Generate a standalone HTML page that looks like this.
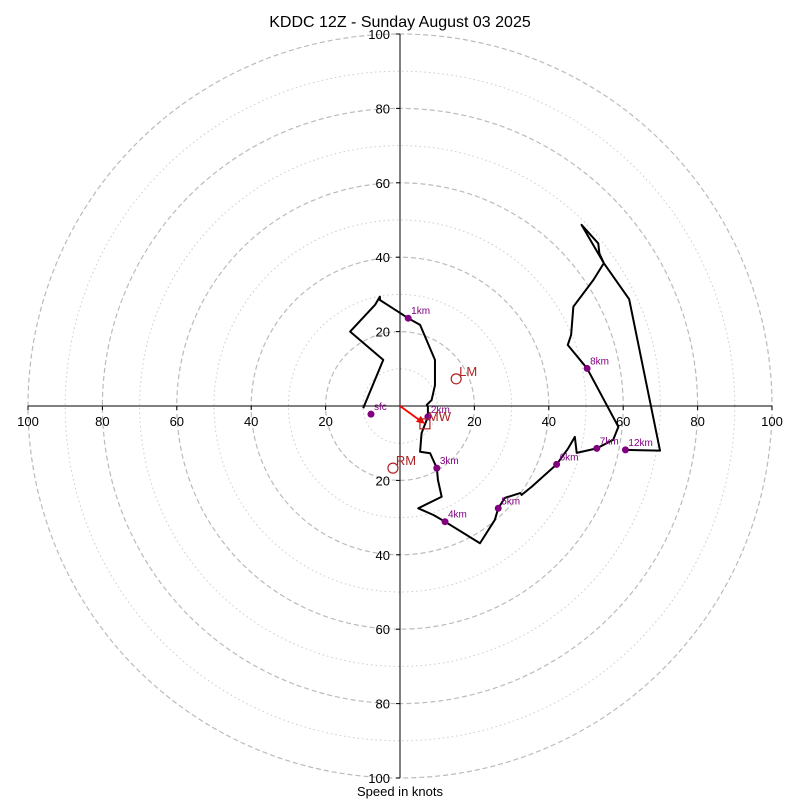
<!DOCTYPE html>
<html><head><meta charset="utf-8"><style>
body{margin:0;background:#fff}
svg{display:block;font-family:"Liberation Sans","DejaVu Sans",sans-serif}
</style></head><body>
<svg id="chart" width="800" height="800" viewBox="0 0 800 800">
<text x="400" y="27" text-anchor="middle" font-size="16">KDDC 12Z - Sunday August 03 2025</text>
<text x="400" y="796" text-anchor="middle" font-size="13">Speed in knots</text>
<g id="rings"></g><g id="axes"></g><g id="trace"></g><g id="marks"></g>
</svg>
<script>
const traceU=[-9.9,-4.5,-13.4,-6.7,-5.4,-5.4,2.2,5.4,9.4,9.4,8.5,7.2,7.5,7.5,5.8,5.4,8.1,9.9,10.2,11.2,4.9,9.0,12.1,21.5,25.5,26.4,28.2,32.3,32.7,35.4,42.1,45.2,47.0,47.5,52.9,57.3,58.7,50.3,45.1,46.0,46.6,52.0,54.8,53.6,53.3,48.8,54.8,61.6,69.9,60.6];
const traceV=[-0.6,12.4,20.0,27.2,29.4,28.5,23.6,21.8,12.4,5.6,1.6,0.3,-0.2,-2.9,-7.3,-12.3,-12.7,-16.7,-19.9,-24.4,-27.5,-29.3,-31.1,-36.9,-30.6,-27.5,-24.7,-23.4,-23.9,-21.7,-15.7,-11.4,-8.3,-12.6,-11.4,-9.1,-5.6,10.1,16.4,19.1,26.7,33.9,38.4,41.0,43.7,48.7,38.4,28.7,-12.0,-11.8];
const levelLabels=["sfc","1km","2km","3km","4km","5km","6km","7km","8km","12km"];
const levelU=[-7.8,2.2,7.5,9.9,12.1,26.4,42.1,52.9,50.3,60.6];
const levelV=[-2.2,23.6,-2.9,-16.7,-31.1,-27.5,-15.7,-11.4,10.1,-11.8];
const stormLabels=["LM","RM","MW"];
const stormU=[15.1,-1.9,6.7];
const stormV=[7.3,-16.7,-4.8];
const ringValues=[10,20,30,40,50,60,70,80,90,100];
const tickLabels=["20","40","60","80","100"];
const tickValues=[20,40,60,80,100];
const CX=400,CY=406,S=3.72;
const sx=u=>CX+u*S, sy=v=>CY-v*S;
const NS="http://www.w3.org/2000/svg";
function mk(tag,parent,attrs){const e=document.createElementNS(NS,tag);for(const k in attrs)e.setAttribute(k,attrs[k]);document.getElementById(parent).appendChild(e);return e;}
ringValues.forEach(r=>{
  const c=mk('circle','rings',{cx:CX,cy:CY,r:r*S,fill:'none',stroke:r%20===0?'#bbb':'#ccc','stroke-width':r%20===0?1.2:1,'stroke-dasharray':r%20===0?'5,3':'1.5,3'});
  
  
});
let l=mk('line','axes',{x1:sx(-100),y1:CY,x2:sx(100),y2:CY,stroke:'#000','stroke-width':1});


l=mk('line','axes',{x1:CX,y1:sy(100),x2:CX,y2:sy(-100),stroke:'#000','stroke-width':1});


tickValues.forEach((t,i)=>{
  [1,-1].forEach(sg=>{
    let tx=mk('text','axes',{x:sx(sg*t),y:CY+20,'text-anchor':'middle','font-size':13});
    tx.textContent=tickLabels[i];
    
    
    mk('line','axes',{x1:sx(sg*t),y1:CY,x2:sx(sg*t),y2:CY+4,stroke:'#000'});
    let ty=mk('text','axes',{x:CX-10,y:sy(sg*t)+5,'text-anchor':'end','font-size':13});
    ty.textContent=tickLabels[i];
    
    
    mk('line','axes',{x1:CX-4,y1:sy(sg*t),x2:CX,y2:sy(sg*t),stroke:'#000'});
  });
});
const pl=mk('polyline','trace',{points:traceU.map((u,i)=>sx(u)+','+sy(traceV[i])).join(' '),fill:'none',stroke:'#000','stroke-width':2,'stroke-linejoin':'round'});


levelLabels.forEach((lab,i)=>{
  const c=mk('circle','marks',{cx:sx(levelU[i]),cy:sy(levelV[i]),r:3.5,fill:'#800080'});
  
  
  const t=mk('text','marks',{x:sx(levelU[i])+3,y:sy(levelV[i])-4,'font-size':10,fill:'#800080'});
  t.textContent=lab;
  
  
});
const ar=mk('line','marks',{x1:CX,y1:CY,x2:sx(stormU[2])-3,y2:sy(stormV[2])-2,stroke:'red','stroke-width':1.8});


const ah=mk('polygon','marks',{points:`${sx(stormU[2])},${sy(stormV[2])} ${sx(stormU[2])-9},${sy(stormV[2])-2} ${sx(stormU[2])-4},${sy(stormV[2])-8}`,fill:'red'});


stormLabels.forEach((lab,i)=>{
  let m;
  if(lab==='MW') m=mk('rect','marks',{x:sx(stormU[i])-5,y:sy(stormV[i])-5,width:10,height:10,fill:'none',stroke:'#b22222','stroke-width':1.2});
  else m=mk('circle','marks',{cx:sx(stormU[i]),cy:sy(stormV[i]),r:5,fill:'none',stroke:'#b22222','stroke-width':1.2});
  
  
  const t=mk('text','marks',{x:sx(stormU[i])+3,y:sy(stormV[i])-3,'font-size':13,fill:'#b22222'});
  t.textContent=lab;
  
  
});
</script>
</body></html>
